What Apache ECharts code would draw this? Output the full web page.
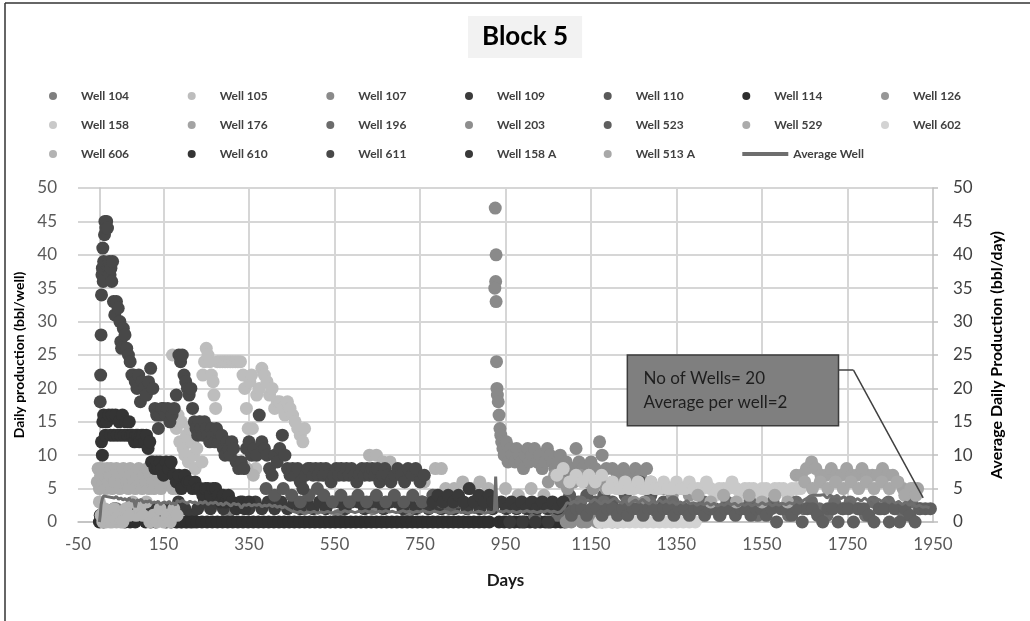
<!DOCTYPE html>
<html><head><meta charset="utf-8">
<script src="https://cdn.jsdelivr.net/npm/echarts@6/dist/echarts.min.js"></script>
<style>html,body{margin:0;padding:0;background:#fff}#c{width:1030px;height:621px}</style>
</head><body><div id="c"></div>
<script>
// ---------- DATA ----------
const xTickLabels = [-50,150,350,550,750,950,1150,1350,1550,1750,1950];
const yTickLabels = [0,5,10,15,20,25,30,35,40,45,50];

const wellNames = ['Well 104','Well 105','Well 107','Well 109','Well 110','Well 114','Well 126',
  'Well 158','Well 176','Well 196','Well 203','Well 523','Well 529','Well 602',
  'Well 606','Well 610','Well 611','Well 158 A','Well 513 A'];
const avgName = 'Average Well';

const well104 = [[70,13],[74,13],[218,12],[40,2],[60,1],[100,2],[140,1],[182,0],[192,0],[202,0],[212,0],[222,0],[300,1],[420,3],[480,2],[560,1],[640,2],[720,1]];
const well105 = [[171,25],[176,15],[180,14],[184,16],[188,12],[192,15],[196,11],[200,10],[204,13],[208,9],[212,14],[216,12],[220,10],[224,8],[228,11],[232,13],[236,15],[240,9],[242,22],[246,24],[250,26],[254,25],[258,24],[262,22],[266,21],[268,19],[272,17],[276,24],[282,24],[288,24],[294,24],[300,24],[306,24],[312,24],[318,24],[324,24],[330,24],[336,22],[340,20],[344,17],[348,14],[352,21],[356,22],[358,14],[362,10],[366,8],[368,19],[374,20],[380,23],[386,22],[392,21],[398,19],[404,20],[410,17],[416,18],[422,18],[428,17],[434,16],[440,18],[446,17],[452,16],[458,15],[464,14],[470,13],[476,12],[480,14]];
const well107 = [[926,47],[928,40],[927,36],[925,35],[928,33],[929,24],[930,20],[931,19],[933,18],[935,16],[937,14],[939,13],[941,12],[944,11],[947,10],[952,12],[956,9],[962,11],[966,10],[972,9],[976,11],[982,10],[986,9],[992,8],[996,10],[1002,11],[1006,9],[1012,10],[1018,11],[1024,9],[1030,10],[1036,8],[1042,9],[1048,11],[1054,10],[1060,9],[1066,8],[1072,9],[1078,10],[1085,8],[1092,9],[1100,7],[1108,8],[1115,11],[1122,9],[1130,8],[1140,7],[1150,9],[1160,8],[1170,12],[1176,10],[1186,8],[1200,8],[1212,7],[1226,8],[1240,7],[1254,8],[1266,7],[1280,8]];
const well109 = [[20,1],[35,2],[50,1],[65,2],[80,1],[95,2],[110,1],[125,2],[140,1],[155,2],[170,1],[185,3],[200,2],[215,1],[230,2],[245,3],[260,2],[275,3],[290,2],[305,3],[320,2],[335,3],[350,2],[365,3],[380,2],[395,3],[410,2],[425,3],[440,2],[455,3],[470,2],[485,3],[500,2],[515,3],[530,2],[545,3],[560,3],[575,2],[590,3],[605,3],[620,2],[635,3],[650,3],[665,2],[680,3],[695,3],[710,2],[725,3],[740,2],[755,3],[770,2],[785,3],[800,2],[815,3],[830,2],[845,3],[860,2],[875,3],[890,2],[905,3],[920,2]];
const well110 = [[390,5],[410,4],[430,5],[450,4],[470,3],[490,4],[510,5],[525,4],[545,3],[565,4],[585,3],[605,4],[625,3],[648,4],[670,3],[690,4],[712,3],[733,4],[755,3],[780,4],[800,3],[820,2],[840,3],[1100,4],[1120,3],[1140,4],[1160,3],[1180,4],[1200,3],[1230,4],[1265,6],[1290,4],[1320,3]];
const well114 = [[0,0],[2,1],[10,0],[60,0],[72,0],[84,0],[96,1],[108,0],[120,0],[132,0],[144,1],[156,0],[168,0],[180,0],[192,0],[204,0],[216,0],[228,0],[240,0],[252,0],[264,0],[276,0],[288,0],[300,0],[312,0],[324,0],[336,0],[348,0],[360,0],[372,0],[384,0],[396,0],[408,0],[420,0],[432,0],[444,0],[456,0],[468,0],[480,0],[492,0],[504,0],[516,0],[528,0],[540,0],[552,0],[564,0],[576,0],[588,0],[600,0],[612,0],[624,0],[636,0],[648,0],[660,0],[672,0],[684,0],[696,0],[708,0],[720,0],[732,0],[744,0],[756,0],[768,0],[780,0],[792,0],[804,0],[816,0],[828,0],[840,0],[852,0],[864,0],[876,0],[888,0],[900,0],[912,0],[935,0],[947,0],[959,0],[971,0],[983,0],[995,0],[1007,0],[1019,0],[1031,0],[1043,0],[1055,0],[1067,0],[1079,0],[1088,0]];
const well126 = [[1050,6],[1065,7],[1080,6],[1095,5],[1110,6],[1125,7],[1140,6],[1155,5],[1170,6],[1185,5],[1200,6],[1215,5],[1230,6],[1245,5],[1260,6],[1275,5],[1290,6],[1305,5],[1320,5],[1340,4],[1360,5],[1380,4]];
const well158 = [[1070,7],[1085,8],[1100,6],[1115,7],[1130,6],[1145,7],[1160,6],[1175,7],[1190,5],[1200,6],[1210,5],[1220,5],[1230,6],[1240,5],[1250,5],[1260,6],[1270,5],[1280,5],[1290,6],[1300,5],[1310,5],[1320,6],[1330,5],[1340,5],[1350,6],[1360,5],[1370,5],[1380,6],[1390,5],[1400,5],[1410,5],[1420,6],[1430,5],[1440,4],[1450,5],[1460,5],[1470,5],[1480,6],[1490,5],[1500,4],[1510,5],[1520,5],[1530,5],[1540,4],[1550,5],[1560,5],[1570,4],[1580,5],[1590,5],[1600,5],[1610,4],[1620,5],[1630,5],[1640,5]];
const well176 = [[1630,7],[1642,7],[1654,8],[1666,9],[1676,8],[1688,7],[1700,7],[1712,8],[1724,7],[1736,7],[1748,8],[1760,7],[1772,7],[1784,8],[1796,7],[1808,7],[1820,7],[1832,8],[1844,7],[1856,7],[1868,6],[1880,5],[1892,4],[1904,5],[1914,5]];
const well196 = [[1000,2],[1018,1],[1036,3],[1054,2],[1072,1],[1090,3],[1108,2],[1126,3],[1144,1],[1162,2],[1180,3],[1198,2],[1216,1],[1234,3],[1252,2],[1270,2],[1288,3],[1306,1],[1324,2],[1342,3],[1360,2],[1378,1],[1396,2],[1414,3],[1432,2],[1450,1],[1468,3],[1486,2],[1504,2],[1522,3],[1540,1],[1558,2],[1576,3],[1594,2],[1612,1],[1630,3],[1648,2],[1666,3],[1684,2],[1702,1],[1720,3],[1738,2],[1756,3],[1774,2],[1792,1],[1810,3],[1828,2],[1846,3],[1864,2],[1882,1],[1900,3],[1918,2]];
const well203 = [[1092,0],[1104,0],[1116,1],[1128,0],[1140,0],[1152,1],[1164,0],[1176,0],[1188,1],[1200,0],[1212,0],[1224,1],[1236,2],[1250,3],[1262,2],[1275,3],[1290,2]];
const well602 = [[1170,0],[1184,0],[1198,0],[1212,0],[1226,0],[1240,0],[1254,0],[1268,0],[1282,0],[1296,0],[1310,0],[1324,0],[1338,0],[1352,0],[1366,0],[1380,0],[1394,0]];
const well523 = [[1092,2],[1104,1],[1116,2],[1128,2],[1140,1],[1152,2],[1164,2],[1176,1],[1188,2],[1200,2],[1212,1],[1224,2],[1236,1],[1248,2],[1260,2],[1272,1],[1284,2],[1296,2],[1308,1],[1320,2],[1332,2],[1344,1],[1356,2],[1368,2],[1380,1],[1392,2],[1404,2],[1416,1],[1428,2],[1440,2],[1452,1],[1464,2],[1476,2],[1488,1],[1500,2],[1512,2],[1524,1],[1536,2],[1548,2],[1560,1],[1572,2],[1584,0],[1596,2],[1608,2],[1620,1],[1632,2],[1644,0],[1656,2],[1668,2],[1680,1],[1692,0],[1704,2],[1716,2],[1728,0],[1740,2],[1752,2],[1764,0],[1776,2],[1788,2],[1800,1],[1812,0],[1824,2],[1836,2],[1848,0],[1860,2],[1872,0],[1884,2],[1896,1],[1908,0],[1920,2],[1932,2],[1944,2],[1955,2]];
const well529 = [[-5,6],[-3,8],[0,5],[3,7],[6,8],[9,6],[12,7],[15,5],[18,8],[21,6],[24,7],[27,8],[30,5],[33,7],[36,6],[40,8],[44,7],[48,5],[52,6],[56,8],[60,7],[64,6],[68,5],[72,8],[76,7],[80,6],[84,5],[88,7],[92,8],[96,6],[100,5],[104,7],[108,6],[112,8],[116,5],[120,7],[124,6],[128,5],[132,7],[136,8],[140,6],[144,5],[148,7],[152,6],[156,9],[160,7],[164,8],[168,6],[172,5],[176,7],[180,6],[184,5]];
const well606 = [[0,3],[4,1],[8,0],[12,2],[16,0],[20,1],[25,0],[30,0],[35,2],[40,0],[45,1],[50,0],[55,0],[62,2],[70,1],[78,3],[86,1],[94,2],[102,1],[110,3],[118,0],[126,1],[134,0],[142,2],[150,0],[158,1],[166,0],[174,2],[182,1],[345,8],[360,7],[520,7],[560,8],[600,7],[632,10],[648,10],[664,9],[680,9],[700,7],[760,6],[786,8],[800,8],[810,5],[830,5],[850,6],[870,5],[890,6],[910,5],[950,5],[980,4],[1010,5],[1040,4]];
const well610 = [[5,12],[7,10],[8,15],[10,16],[14,13],[18,15],[22,16],[26,13],[30,16],[34,13],[38,16],[42,13],[46,15],[50,13],[54,16],[58,13],[62,15],[66,13],[70,15],[74,13],[78,13],[82,12],[86,13],[90,13],[94,12],[98,13],[102,13],[106,12],[110,13],[114,11],[118,12],[122,9],[126,9],[130,8],[134,9],[138,8],[142,9],[146,8],[150,7],[156,9],[162,8],[168,9],[174,7],[180,6],[186,7],[192,5],[200,7],[206,6],[212,6],[218,5],[224,6],[230,5],[236,5],[242,4],[248,5],[254,5],[260,4],[266,5],[272,5],[278,4],[284,3],[290,4],[296,3],[302,4],[310,3],[320,2],[330,3],[340,2],[350,3]];
const well611 = [[2,18],[3,22],[4,28],[5,34],[6,37],[7,38],[8,41],[9,36],[10,39],[12,43],[13,45],[15,44],[17,45],[19,44],[21,38],[23,39],[25,37],[27,38],[29,36],[31,39],[33,33],[36,31],[40,33],[44,32],[48,30],[50,27],[52,26],[56,29],[60,28],[64,26],[68,25],[72,24],[76,22],[80,22],[84,21],[88,20],[92,22],[96,18],[100,21],[105,20],[110,19],[115,21],[120,23],[125,20],[130,17],[134,16],[138,14],[142,16],[146,17],[150,17],[155,16],[160,17],[165,15],[170,16],[175,17],[180,19],[186,25],[190,24],[194,25],[198,22],[202,21],[206,20],[210,19],[214,20],[218,17],[222,15],[226,14],[230,13],[234,15],[238,14],[242,13],[246,15],[250,14],[254,13],[258,12],[262,14],[266,13],[270,12],[274,14],[278,12],[282,12],[286,13],[290,11],[294,10],[298,12],[302,11],[306,10],[310,12],[314,11],[320,9],[326,8],[332,9],[338,8],[344,11],[350,12],[356,10],[362,11],[368,10],[374,16],[380,12],[386,11],[392,10],[398,8],[404,7],[410,10],[416,9],[422,11],[428,13],[434,10],[440,8],[446,7],[452,8],[458,7],[464,8],[470,6],[476,5],[482,7],[488,8],[494,8],[500,7],[506,8],[512,7],[518,8],[524,7],[530,8],[536,7],[542,6],[548,7],[554,8],[560,7],[566,8],[572,7],[578,8],[584,7],[590,8],[596,7],[602,6],[608,7],[614,8],[620,7],[626,8],[632,7],[638,8],[644,7],[650,8],[656,6],[662,7],[668,8],[674,7],[682,6],[690,7],[698,8],[706,7],[714,6],[722,8],[732,7],[740,8],[750,6],[760,7]];
const well158A = [[780,3],[792,4],[804,3],[816,4],[828,3],[840,4],[852,3],[865,5],[876,3],[888,4],[900,3],[912,4],[920,3],[940,3],[952,2],[964,3],[976,2],[988,3],[1000,2],[1012,3],[1024,2],[1036,3],[1048,2],[1060,3],[1072,2],[1085,3],[960,0],[990,0],[1020,0],[1050,0]];
const well513A = [[1400,4],[1430,3],[1460,4],[1490,3],[1520,4],[1550,3],[1580,4],[1610,3],[1650,6],[1668,5],[1686,6],[1704,5],[1722,6],[1740,5],[1758,6],[1776,5],[1794,6],[1812,5],[1830,6],[1848,5],[1866,6],[1884,4],[1898,5],[1910,4]];

const avgWell = [[0,0],[2,1],[4,2.6],[7,3.5],[10,3.9],[14,4.1],[18,3.8],[22,4],[26,3.7],[30,3.9],[35,3.6],[40,3.8],[45,3.4],[50,3.6],[55,3.3],[60,3.5],[65,3.2],[70,3.6],[75,3.1],[80,3.4],[84,2.2],[88,3.3],[93,3.2],[98,3.4],[103,2.9],[108,3.1],[113,3],[118,3.2],[123,2.8],[128,3],[133,2.9],[138,3.1],[143,2.6],[148,2.9],[153,3],[158,2.8],[163,3.1],[168,2.7],[173,2.9],[178,2.5],[182,3.2],[188,3],[194,3.2],[200,3],[206,2.8],[212,3.1],[218,2.9],[224,3],[230,2.7],[236,3],[242,2.8],[248,3.1],[254,2.6],[260,2.9],[266,2.8],[272,3],[278,2.6],[284,2.8],[290,2.5],[296,2.9],[302,2.7],[308,2.4],[314,2.8],[320,2.6],[326,2.7],[332,2.1],[338,2.6],[344,2.5],[350,2.7],[356,2.4],[362,2.6],[368,2.5],[374,2.7],[380,2.3],[386,2.5],[392,2.4],[398,2.6],[404,2.3],[410,2.5],[416,2.2],[422,2.4],[428,2.1],[434,2.3],[440,2.0],[446,1.8],[452,1.6],[458,1.5],[464,1.4],[470,1.6],[478,1.3],[486,1.5],[494,1.4],[502,1.6],[510,1.3],[518,1.5],[526,1.4],[534,1.6],[542,1.3],[550,1.5],[558,1.6],[566,1.4],[574,1.7],[582,1.5],[590,1.6],[598,1.4],[606,1.6],[614,1.5],[622,1.7],[630,1.5],[638,1.6],[646,1.4],[654,1.6],[662,1.5],[670,1.7],[678,1.5],[686,1.6],[694,1.4],[702,1.5],[710,1.7],[718,1.5],[726,1.6],[734,1.4],[742,1.6],[750,1.5],[758,1.7],[766,1.5],[774,1.4],[782,1.6],[790,1.5],[798,1.4],[806,1.6],[814,1.5],[822,1.3],[830,1.5],[838,1.6],[846,1.4],[854,1.5],[862,1.3],[870,1.5],[878,1.4],[886,1.6],[894,1.5],[902,1.3],[910,1.5],[918,1.4],[924,1.6],[927,6.8],[930,1.8],[936,1.6],[944,1.5],[952,1.7],[960,1.5],[968,1.6],[976,1.4],[984,1.6],[992,1.5],[1000,1.7],[1008,1.5],[1016,1.6],[1024,1.4],[1032,1.6],[1040,1.5],[1048,1.7],[1056,1.5],[1064,1.6],[1072,1.4],[1080,1.6],[1088,2.2],[1094,2.9],[1102,2.7],[1110,3.1],[1118,2.8],[1126,3.2],[1134,2.9],[1142,3.3],[1150,3],[1158,3.4],[1166,3.1],[1174,2.7],[1182,3.2],[1190,2.9],[1198,3.3],[1206,3.6],[1214,3.1],[1222,2.8],[1230,3.2],[1238,2.5],[1246,3],[1254,3.3],[1262,2.9],[1270,3.4],[1278,3],[1286,2.7],[1294,3.1],[1302,2.8],[1310,3.3],[1318,2.9],[1326,3.2],[1334,2.8],[1342,3.1],[1350,2.6],[1358,3],[1366,2.8],[1374,3.2],[1382,2.7],[1390,2.9],[1398,2.5],[1406,2.8],[1414,2.6],[1422,2.9],[1430,2.5],[1438,2.8],[1446,2.4],[1454,2.7],[1462,2.5],[1470,2.9],[1478,2.6],[1486,2.8],[1494,2.4],[1502,2.7],[1510,2.5],[1518,2.8],[1526,2.4],[1534,2.7],[1542,2.5],[1550,2.9],[1558,2.6],[1566,2.8],[1574,2.4],[1582,2.7],[1590,2.5],[1598,2.8],[1606,2.6],[1614,2.9],[1622,2.7],[1630,3.1],[1638,2.8],[1646,3.2],[1654,3.5],[1662,3.9],[1670,4],[1678,4],[1686,4],[1694,4.1],[1702,3.6],[1710,4],[1718,3.7],[1726,4],[1734,3.5],[1742,3.8],[1750,3.3],[1758,3.6],[1766,3.2],[1774,3.5],[1782,3.1],[1790,3.6],[1798,3.2],[1806,3.5],[1814,3],[1822,3.4],[1830,3.1],[1838,3.5],[1846,2.9],[1854,3.3],[1862,2.8],[1870,3.1],[1878,2.6],[1886,3],[1894,2.5],[1902,2.8],[1910,2.3],[1918,2.5],[1926,2.2],[1934,2.3],[1942,2.1]];

const wellData = [well104,well105,well107,well109,well110,well114,well126,well158,well176,well196,
  well203,well523,well529,well602,well606,well610,well611,well158A,well513A];

// ---------- STYLE ----------
const wellColors = ['#7f7f7f','#bdbdbd','#8a8a8a','#3b3b3b','#5a5a5a','#2e2e2e','#979797',
  '#c9c9c9','#a3a3a3','#6b6b6b','#8e8e8e','#5f5f5f','#ababab','#d3d3d3',
  '#b3b3b3','#343434','#484848','#393939','#a8a8a8'];
// drawing order (bottom to top); Well 602 drawn beneath Well 523 band
const drawOrder = [0,1,2,3,4,5,6,7,8,9,10,13,11,12,14,15,16,17,18];
const avgColor = '#6e6e6e';
const FONT = 'Lato';

// annotation (data coordinates)
const noteText = 'No of Wells= 20\nAverage per well=2';
const noteBox = [[1235,25],[1729,14.4]];
const noteLeader = [[1729,22.75],[1764,22.75],[1927,3.6]];

const allNames = wellNames.concat([avgName]);
const colX = [72,210.7,349.3,488,626.7,765.3,904];
const rowY = [97,126,155];
const legends = allNames.map((n,i)=>{
  const item = (n === avgName)
    ? {name:n, icon:'path://M0,0L46,0L46,4L0,4Z', itemStyle:{color:avgColor}}
    : {name:n, icon:'circle'};
  return {
    data:[item], left: colX[i%7]-23, top: rowY[Math.floor(i/7)]-7, padding:0,
    itemWidth:46, itemHeight:8, itemGap:0, selectedMode:false,
    textStyle:{fontSize:12, fontWeight:'bold', color:'#404040', fontFamily:FONT}
  };
});

const series = drawOrder.map((i,k)=>({
  type:'scatter', name:wellNames[i], data:wellData[i], symbolSize:13, symbol:'circle',
  itemStyle:{color:wellColors[i], opacity:1}, xAxisIndex:0, yAxisIndex:0, z:2
}));
series.push({
  type:'line', name:avgName, data:avgWell, yAxisIndex:1, symbol:'none', showSymbol:false,
  lineStyle:{color:avgColor, width:3}, itemStyle:{color:avgColor}, z:5,
  markArea:{silent:true,
    itemStyle:{color:'#7f7f7f', borderColor:'#3c3c3c', borderWidth:1.5},
    label:{show:true, position:'insideLeft', distance:17, formatter:noteText,
      fontSize:17, lineHeight:24, color:'#1e1e1e', fontFamily:FONT},
    data:[[{coord:noteBox[0]},{coord:noteBox[1]}]]},
  markLine:{silent:true, symbol:['none','none'], animation:false,
    lineStyle:{color:'#404040', width:1.5, type:'solid'}, label:{show:false},
    data:[[{coord:noteLeader[0]},{coord:noteLeader[1]}],[{coord:noteLeader[1]},{coord:noteLeader[2]}]]}
});

const plain = v => String(v);

const chart = echarts.init(document.getElementById('c'));
chart.setOption({
  animation:false,
  backgroundColor:'#ffffff',
  textStyle:{fontFamily:FONT},
  title:{text:'Block 5', left:468, top:16, backgroundColor:'#f2f2f2', padding:[8,14],
    textStyle:{fontSize:26, fontWeight:'bold', color:'#000', fontFamily:FONT}},
  legend:legends,
  grid:{left:78, right:97, top:188, bottom:99},
  xAxis:{type:'value', min:xTickLabels[0], max:xTickLabels[xTickLabels.length-1],
    interval:xTickLabels[1]-xTickLabels[0],
    name:'Days', nameLocation:'middle', nameGap:50,
    nameTextStyle:{fontSize:17, fontWeight:'bold', color:'#1a1a1a', fontFamily:FONT},
    axisLine:{show:true, onZero:true, lineStyle:{color:'#bfbfbf', width:1.5}},
    axisTick:{show:false},
    axisLabel:{fontSize:17, color:'#595959', margin:14, fontFamily:FONT, formatter:plain},
    splitLine:{show:true, showMinLine:false, showMaxLine:false, lineStyle:{color:'#d6d6d6', width:2}}},
  yAxis:[
    {type:'value', min:yTickLabels[0], max:yTickLabels[yTickLabels.length-1], interval:yTickLabels[1]-yTickLabels[0],
     position:'left', name:'Daily production (bbl/well)', nameLocation:'middle', nameGap:44, nameRotate:90,
     nameTextStyle:{fontSize:14, fontWeight:'bold', color:'#000', fontFamily:FONT},
     axisLine:{show:true, onZero:true, lineStyle:{color:'#c4c4c4', width:1.5}},
     axisTick:{show:false},
     axisLabel:{fontSize:17, color:'#595959', margin:21, fontFamily:FONT, formatter:plain},
     splitLine:{show:true, lineStyle:{color:'#d6d6d6', width:2}}},
    {type:'value', min:yTickLabels[0], max:yTickLabels[yTickLabels.length-1], interval:yTickLabels[1]-yTickLabels[0],
     position:'right', name:'Average Daily Production (bbl/day)', nameLocation:'middle', nameGap:56, nameRotate:90,
     nameTextStyle:{fontSize:16, fontWeight:'bold', color:'#000', fontFamily:FONT},
     axisLine:{show:true, onZero:false, lineStyle:{color:'#bfbfbf', width:1.5}},
     axisTick:{show:true, inside:false, length:5, lineStyle:{color:'#bfbfbf', width:1.5}},
     axisLabel:{fontSize:17, color:'#404040', margin:20, fontFamily:FONT, formatter:plain},
     splitLine:{show:false}}
  ],
  series:series,
  graphic:[
    {type:'line', shape:{x1:5,y1:3,x2:5,y2:621}, style:{stroke:'#333', lineWidth:1.5}, silent:true},
    {type:'line', shape:{x1:5,y1:3,x2:1030,y2:3}, style:{stroke:'#333', lineWidth:1.5}, silent:true}
  ]
});
</script></body></html>
